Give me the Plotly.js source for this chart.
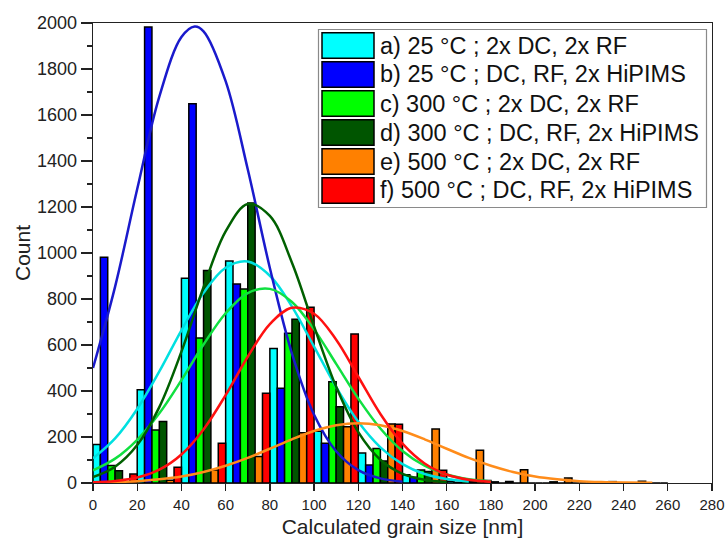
<!DOCTYPE html>
<html>
<head>
<meta charset="utf-8">
<script src="https://cdn.plot.ly/plotly-3.0.1.min.js"></script>
<style>
  html, body { margin: 0; padding: 0; background: #fff; }
  #chart { width: 726px; height: 543px; }
</style>
</head>
<body>
<div id="chart"></div>
<script>
// ---- Data ----
const binCenters = [10, 30, 50, 70, 90, 110, 130, 150, 170, 190, 210, 230, 250];

const seriesNames = [
  "a) 25 °C ; 2x DC, 2x RF",
  "b) 25 °C ; DC, RF, 2x HiPIMS",
  "c) 300 °C ; 2x DC, 2x RF",
  "d) 300 °C ; DC, RF, 2x HiPIMS",
  "e) 500 °C ; 2x DC, 2x RF",
  "f) 500 °C ; DC, RF, 2x HiPIMS"
];

const countsA = [167, 405, 890, 965, 585, 225, 130, 36, 8, 5, 0, 0, 0];
const countsB = [982, 1983, 1649, 865, 412, 173, 78, 25, 3, 0, 0, 0, 0];
const countsC = [76, 230, 630, 843, 651, 440, 150, 57, 10, 7, 5, 0, 8];
const countsD = [53, 267, 924, 1217, 712, 332, 96, 50, 5, 0, 0, 0, 0];
const countsE = [5, 12, 57, 115, 219, 245, 257, 235, 142, 58, 22, 6, 0];
const countsF = [39, 69, 173, 390, 764, 648, 255, 55, 11, 0, 0, 0, 0];

// Fit curves, points
const fitXA = [0, 10, 20, 30, 40, 50, 60, 70, 80, 90, 100, 110, 120, 130, 140, 150, 160, 170];
const fitYA = [107, 194, 322, 485, 664, 827, 936, 963, 901, 767, 593, 417, 266, 155, 82, 39, 17, 7];

const fitXB = [0, 10, 20, 30, 40, 46, 50, 60, 70, 80, 90, 100, 110, 120, 130, 140];
const fitYB = [500, 854, 1278, 1680, 1939, 1985, 1964, 1747, 1364, 935, 563, 297, 138, 56, 20, 6];

const fitXC = [0, 10, 20, 30, 40, 50, 60, 70, 80, 90, 100, 110, 120, 130, 140, 150, 160, 170, 180];
const fitYC = [55, 106, 188, 303, 447, 602, 738, 826, 844, 787, 668, 518, 367, 237, 139, 75, 37, 16, 7];

const fitXD = [0, 10, 20, 30, 40, 50, 60, 70, 80, 90, 100, 110, 120, 130, 140, 150, 160];
const fitYD = [26, 71, 165, 330, 571, 851, 1094, 1213, 1161, 958, 681, 418, 221, 101, 40, 14, 4];

const fitXE = [0, 10, 20, 30, 40, 50, 60, 70, 80, 90, 100, 110, 120, 130, 140, 150, 160, 170, 180, 190, 200, 210, 220, 230, 240, 253];
const fitYE = [2, 4, 8, 16, 28, 48, 75, 109, 149, 190, 226, 251, 260, 251, 226, 190, 149, 109, 75, 48, 28, 16, 8, 4, 2, 1];

const fitXF = [0, 10, 20, 30, 40, 50, 60, 70, 80, 90, 100, 110, 120, 130, 140, 150, 160, 170, 180];
const fitYF = [3, 9, 24, 58, 124, 233, 382, 549, 691, 762, 736, 623, 462, 300, 171, 85, 37, 14, 5];

const xTickVals = [0, 20, 40, 60, 80, 100, 120, 140, 160, 180, 200, 220, 240, 260, 280];
const yTickVals = [0, 200, 400, 600, 800, 1000, 1200, 1400, 1600, 1800, 2000];

// ---- Styles ----
const barColors = ['#00ffff', '#0000ff', '#00ff00', '#005500', '#ff8000', '#ff0000'];
const lineColors = ['#00e0e0', '#1a1acc', '#10e040', '#006000', '#ff8c1a', '#ff1010'];

const allCounts = [countsA, countsB, countsC, countsD, countsE, countsF];
const allFitX = [fitXA, fitXB, fitXC, fitXD, fitXE, fitXF];
const allFitY = [fitYA, fitYB, fitYC, fitYD, fitYE, fitYF];

const traces = [];
allCounts.forEach((c, i) => {
  traces.push({
    type: 'bar', x: binCenters, y: c, name: seriesNames[i],
    marker: { color: barColors[i], line: { color: '#000', width: 1.5 } },
    showlegend: false
  });
});
allFitX.forEach((fx, i) => {
  traces.push({
    type: 'scatter', mode: 'lines', x: fx, y: allFitY[i],
    line: { color: lineColors[i], width: 2.5, shape: 'spline' },
    showlegend: false, hoverinfo: 'skip'
  });
});

// ---- Manual legend (large swatches as in reference) ----
const L = 93, R = 712, T = 23, B = 483;
const W = R - L, H = B - T;
const px = (x) => (x - L) / W;
const py = (y) => (B - y) / H;

const shapes = [{
  type: 'rect', xref: 'paper', yref: 'paper',
  x0: px(318.5), x1: px(706.5), y0: py(207.5), y1: py(29.5),
  fillcolor: '#fff', line: { color: '#8a8a8a', width: 1.2 }, layer: 'above'
}];
const annotations = [];
seriesNames.forEach((n, i) => {
  const top = 32.7 + i * 29;
  shapes.push({
    type: 'rect', xref: 'paper', yref: 'paper',
    x0: px(322), x1: px(374), y0: py(top + 25.5), y1: py(top),
    fillcolor: barColors[i], line: { color: '#000', width: 1.5 }, layer: 'above'
  });
  annotations.push({
    xref: 'paper', yref: 'paper', x: px(378), y: py(top + 12.8),
    xanchor: 'left', yanchor: 'middle', showarrow: false, text: n,
    font: { family: 'Liberation Sans, Arial, sans-serif', size: 23.5, color: '#111' }
  });
});

const layout = {
  width: 726, height: 543,
  margin: { l: L, r: 726 - R, t: T, b: 543 - B, pad: 0 },
  paper_bgcolor: '#fff', plot_bgcolor: '#fff',
  font: { family: 'Liberation Sans, Arial, sans-serif', color: '#222' },
  barmode: 'group', bargap: 0, bargroupgap: 0,
  xaxis: {
    range: [0, 280], tickvals: xTickVals, ticks: 'outside', ticklen: 7, tickwidth: 1.3,
    tickcolor: '#222', showline: true, linecolor: '#222', linewidth: 1.3, mirror: true,
    showgrid: false, zeroline: false, tickfont: { size: 15 }, ticklabelstandoff: 1,
    title: { text: 'Calculated grain size [nm]', font: { size: 21 }, standoff: 7 }
  },
  yaxis: {
    range: [0, 2000], tickvals: yTickVals, ticks: 'outside', ticklen: 11, tickwidth: 1.3,
    tickcolor: '#222', showline: true, linecolor: '#222', linewidth: 1.3, mirror: true,
    showgrid: false, zeroline: false, tickfont: { size: 18 },
    minor: { dtick: 100, ticks: 'outside', ticklen: 5, tickcolor: '#222', tickwidth: 1.2, showgrid: false },
    title: { text: 'Count', font: { size: 21 }, standoff: 0 }
  },
  shapes: shapes,
  annotations: annotations,
  showlegend: false
};

Plotly.newPlot('chart', traces, layout, { displayModeBar: false, staticPlot: true });
</script>
</body>
</html>
